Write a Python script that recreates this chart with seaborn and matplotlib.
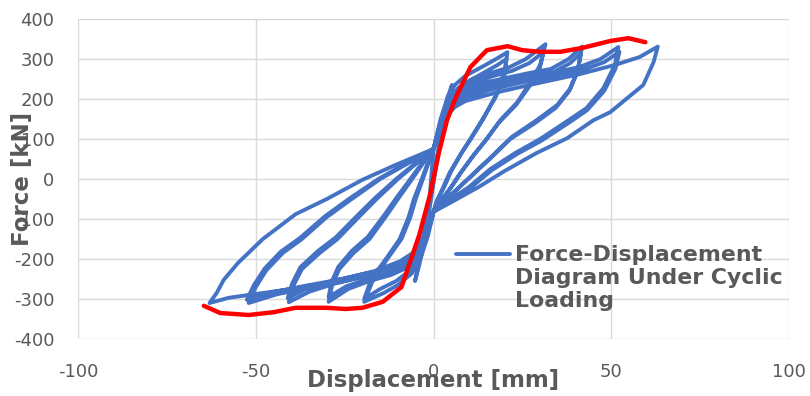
import numpy as np
import pandas as pd
import matplotlib
matplotlib.use("Agg")
import matplotlib.pyplot as plt
import seaborn as sns

# ---- data (displacement [mm], force [kN]) ----
disp_a5 = [0, 1, 2.5, 4, 5.2, 4.6, 3, 1.2, 0, -1.2, -2.5, -4, -5.2, -4.6, -3, -1.2, 0]
force_a5 = [0, 55, 140, 205, 235, 210, 140, 60, -10, -80, -150, -215, -255, -230, -150, -60, 75]

disp_a20 = [0, 2, 4, 6, 9, 14, 18, 20.8, 20.2, 18, 14, 10.5, 7.9, 5, 3, 1, 0,
            -1.5, -3.5, -6, -10, -14, -19.5, -17, -12.6, -9, -6.5, -5, -3, -1.2, 0]
force_a20 = [75, 150, 205, 235, 258, 282, 302, 317, 277, 217, 150, 100, 65, 20, -20, -55, -82,
             -140, -195, -235, -265, -285, -307, -252, -195, -150, -95, -50, 0, 45, 75]

disp_b20 = [0, 2.2, 4.5, 7, 10, 14, 18, 20.5, 20, 17.5, 13.5, 10, 7.5, 4.5, 2.5, 0.8, 0,
            -1.6, -3.8, -6.5, -10.5, -15, -19.5, -17.5, -13, -9.5, -7, -5.5, -3.3, -1.4, 0]
force_b20 = [75, 145, 195, 225, 245, 265, 285, 300, 262, 205, 145, 95, 60, 15, -25, -58, -82,
             -135, -190, -228, -255, -275, -300, -250, -195, -150, -95, -50, 0, 45, 75]

disp_a31 = [0, 2.2, 4.5, 7, 11, 16, 21, 26, 31.5, 30, 27.2, 23.6, 18.8, 15, 11.8, 8, 5, 2, 0,
            -1.8, -4, -7, -12, -18, -24, -29.5, -28.5, -26.5, -22.5, -18, -13.5, -10, -6, -2.5, 0]
force_a31 = [75, 150, 200, 228, 250, 265, 278, 300, 337, 285, 242, 192, 147, 100, 65, 20, -20, -55, -82,
             -140, -190, -220, -240, -255, -275, -307, -265, -225, -185, -150, -95, -50, 0, 45, 75]

disp_b31 = [0, 2.4, 4.8, 7.5, 12, 17, 22, 27, 31, 29.8, 27, 23.2, 18.3, 14.5, 11.3, 7.6, 4.6, 1.8, 0,
            -2, -4.3, -7.5, -12.5, -18.5, -24.5, -29.5, -28.7, -26.8, -23, -18.5, -14, -10.5, -6.5, -2.8, 0]
force_b31 = [75, 148, 195, 222, 243, 258, 270, 290, 318, 275, 232, 185, 140, 95, 60, 15, -25, -58, -82,
             -138, -185, -215, -235, -250, -268, -295, -258, -220, -180, -145, -92, -48, 0, 45, 75]

disp_a42 = [0, 2.5, 5, 8, 13, 20, 27, 33, 38, 41.8, 40.7, 38.5, 34.8, 29, 22, 17.4, 12, 7.4, 3, 0,
            -2, -4.5, -8, -14, -20, -28, -35, -40.7, -39.5, -37, -32, -27, -21, -16, -10, -4, 0]
force_a42 = [75, 150, 195, 218, 238, 252, 265, 275, 300, 331, 277, 227, 185, 147, 105, 65, 20, -20, -55, -82,
             -140, -185, -212, -232, -245, -262, -282, -308, -268, -225, -185, -150, -95, -50, 0, 45, 75]

disp_b42 = [0, 2.7, 5.3, 8.5, 14, 21, 28, 34, 38.5, 41.5, 40.5, 38.2, 34.4, 28.6, 21.6, 17, 11.6, 7, 2.8, 0,
            -2.2, -4.8, -8.5, -14.5, -21, -29, -36, -41, -39.8, -37.4, -32.5, -27.5, -21.5, -16.5, -10.5, -4.4, 0]
force_b42 = [75, 148, 190, 212, 232, 246, 258, 268, 290, 315, 268, 220, 178, 140, 100, 60, 15, -22, -57, -82,
             -138, -182, -208, -228, -240, -256, -275, -298, -262, -220, -180, -146, -92, -48, 0, 44, 75]

disp_a52 = [0, 2.7, 5.5, 9, 15, 23, 32, 41, 47, 52, 51, 47.8, 43, 38, 30, 23, 16, 10, 4, 0,
            -2.2, -5, -9, -16, -25, -35, -44, -52, -50, -47, -42.4, -37, -30, -23, -15, -7, 0]
force_a52 = [75, 150, 190, 210, 228, 245, 262, 280, 300, 330, 285, 227, 177, 147, 100, 65, 25, -20, -55, -82,
             -140, -185, -210, -235, -255, -272, -288, -310, -270, -228, -185, -150, -95, -50, 0, 40, 75]

disp_b52 = [0, 2.9, 5.8, 9.5, 16, 24, 33, 42, 48, 52.3, 51.2, 48, 43.2, 38.3, 30.4, 23.4, 16.4, 10.4, 4.2, 0,
            -2.4, -5.3, -9.5, -16.5, -25.5, -35.5, -44.5, -52.5, -50.5, -47.5, -43, -37.5, -30.5, -23.5, -15.5, -7.5, 0]
force_b52 = [75, 148, 186, 205, 223, 240, 256, 273, 292, 318, 276, 220, 172, 142, 96, 62, 22, -22, -56, -82,
             -138, -182, -206, -230, -250, -266, -282, -302, -265, -224, -182, -147, -93, -48, 0, 40, 75]

disp_a63 = [0, 3, 6, 9, 18, 27, 41, 51, 58, 63.1, 61.9, 59, 54.5, 49.7, 45, 37.6, 29, 20, 12.7, 5, 0,
            -2.5, -5.5, -10, -18, -29, -40, -48, -57.6, -63, -61, -59, -55, -48, -38.8, -30, -20, -10.7, 0]
force_a63 = [75, 150, 180, 195, 217, 235, 262, 285, 305, 331, 292, 235, 202, 167, 147, 102, 65, 20, -20, -58, -82,
             -140, -185, -215, -240, -258, -275, -285, -297, -310, -285, -252, -210, -150, -88, -50, -2, 35, 75]

env_disp = [-64.6, -60, -52, -45, -38.8, -30, -24.7, -20, -14.3, -9, -6.5, -4, -1, 1.5, 3.8, 6.2,
            10.4, 15, 20.8, 25, 30, 35.7, 42, 49.7, 54.8, 59.6]
env_force = [-317, -335, -340, -333, -322, -322, -325, -322, -307, -270, -205, -140, -40, 65, 147, 202,
             280, 322, 332, 322, 318, 318, 328, 345, 352, 342]

x_ticks = [-100, -50, 0, 50, 100]
y_ticks = [-400, -300, -200, -100, 0, 100, 200, 300, 400]
legend_label = "Force-Displacement\nDiagram Under Cyclic\nLoading"

# ---- build the continuous hysteresis path ----
loops_d = [disp_a5, disp_a20, disp_b20, disp_a31, disp_b31, disp_a42, disp_b42,
           disp_a52, disp_b52, disp_a63]
loops_f = [force_a5, force_a20, force_b20, force_a31, force_b31, force_a42, force_b42,
           force_a52, force_b52, force_a63]
hyst = pd.DataFrame({"disp": np.concatenate(loops_d), "force": np.concatenate(loops_f)})
env = pd.DataFrame({"disp": env_disp, "force": env_force})

sns.set_style("white")
plt.rcParams["font.family"] = ["DejaVu Sans"]
plt.rcParams["axes.unicode_minus"] = False
grey = "#595959"

fig = plt.figure(figsize=(8.1, 3.96), dpi=100)
ax = fig.add_axes([78 / 810, 1 - 339 / 396, (789 - 78) / 810, (339 - 19) / 396])

sns.lineplot(data=hyst, x="disp", y="force", sort=False, estimator=None, ax=ax,
             color="#4472C4", linewidth=2.8, label=legend_label)
sns.lineplot(data=env, x="disp", y="force", sort=False, estimator=None, ax=ax,
             color="#FF0000", linewidth=3.2, legend=False)

ax.set_xlim(-100, 100)
ax.set_ylim(-400, 400)
ax.set_xticks(x_ticks)
ax.set_yticks(y_ticks)
ax.grid(True, color="#D9D9D9", linewidth=1.0)
ax.set_axisbelow(True)
for s in ax.spines.values():
    s.set_visible(False)
ax.tick_params(length=0, pad=17, labelsize=13, labelcolor=grey)

ax.set_xlabel("Displacement [mm]", fontsize=16.5, fontweight="bold", color=grey)
ax.set_ylabel("Force [kN]", fontsize=16.5, fontweight="bold", color=grey)
ax.xaxis.set_label_coords(0.5, -0.095)
ax.yaxis.set_label_coords(-0.062, 0.5)

leg = ax.legend(loc="upper left", bbox_to_anchor=(456 / 810, 1 - 245 / 396),
                bbox_transform=fig.transFigure, frameon=False, fontsize=15.8,
                handlelength=2.45, handletextpad=0.25, handleheight=1.1,
                borderpad=0, borderaxespad=0, labelspacing=0.2)
for t in leg.get_texts():
    t.set_color(grey)
    t.set_fontweight("bold")
try:
    for col in leg._legend_handle_box.get_children():
        for item in col.get_children():
            item.align = "top"
except Exception:
    pass

fig.savefig("out.png", dpi=100)
